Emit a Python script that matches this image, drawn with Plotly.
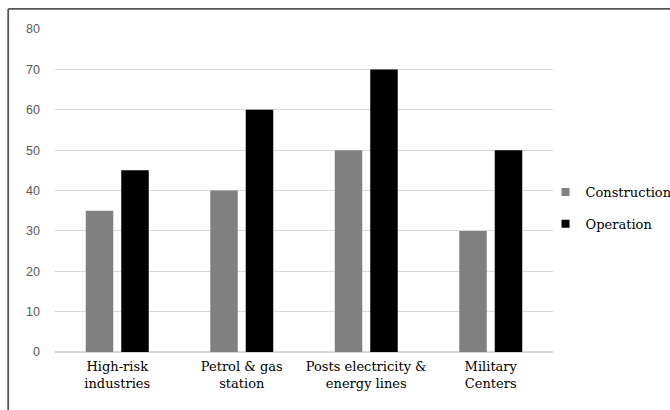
import plotly.graph_objects as go

categories = ["High-risk<br>industries", "Petrol & gas<br>station",
              "Posts electricity &<br>energy lines", "Military<br>Centers"]
construction = [35, 40, 50, 30]
operation = [45, 60, 70, 50]
y_ticks = [0, 10, 20, 30, 40, 50, 60, 70, 80]

gray = "#808080"
black = "#000000"
serif = "DejaVu Serif"

fig = go.Figure()
fig.add_trace(go.Bar(x=categories, y=construction, name="Construction",
                     marker=dict(color=gray, line=dict(width=0)), showlegend=False))
fig.add_trace(go.Bar(x=categories, y=operation, name="Operation",
                     marker=dict(color=black, line=dict(width=0)), showlegend=False))

# legend entries with small square swatches
for name, col, grp in [("Construction", gray, "a"), ("Operation", black, "b")]:
    fig.add_trace(go.Scatter(x=[None], y=[None], mode="markers", name=name,
                             legendgroup=grp,
                             marker=dict(symbol="square", size=8, color=col)))

# outer frame (top and left edges)
fig.add_shape(type="line", xref="paper", yref="paper",
              x0=-0.094, x1=1.3, y0=1.062, y1=1.062,
              line=dict(color="#555555", width=1.8))
fig.add_shape(type="line", xref="paper", yref="paper",
              x0=-0.094, x1=-0.094, y0=1.062, y1=-0.2,
              line=dict(color="#555555", width=1.8))

fig.update_layout(
    width=670, height=410,
    margin=dict(l=55, r=117, t=29, b=58, autoexpand=False),
    paper_bgcolor="white", plot_bgcolor="white",
    barmode="group", bargap=0.43, bargroupgap=0.225,
    showlegend=True,
    legend=dict(x=0.985, y=0.446, xanchor="left", yanchor="middle",
                font=dict(family=serif, size=13, color="#000000"),
                tracegroupgap=12, itemwidth=30, bgcolor="rgba(0,0,0,0)"),
    xaxis=dict(type="category", showgrid=False, showline=False, ticks="",
               ticklabelstandoff=5,
               tickfont=dict(family=serif, size=13, color="#000000")),
    yaxis=dict(range=[0, 80], tickvals=y_ticks, showgrid=True,
               gridcolor="#d9d9d9", gridwidth=1, zeroline=True,
               zerolinecolor="#d9d9d9", zerolinewidth=1.5, showline=False,
               ticks="", ticklabelstandoff=14,
               tickfont=dict(family="Liberation Sans", size=12.5, color="#595959")),
)

fig.write_html("out.html")
